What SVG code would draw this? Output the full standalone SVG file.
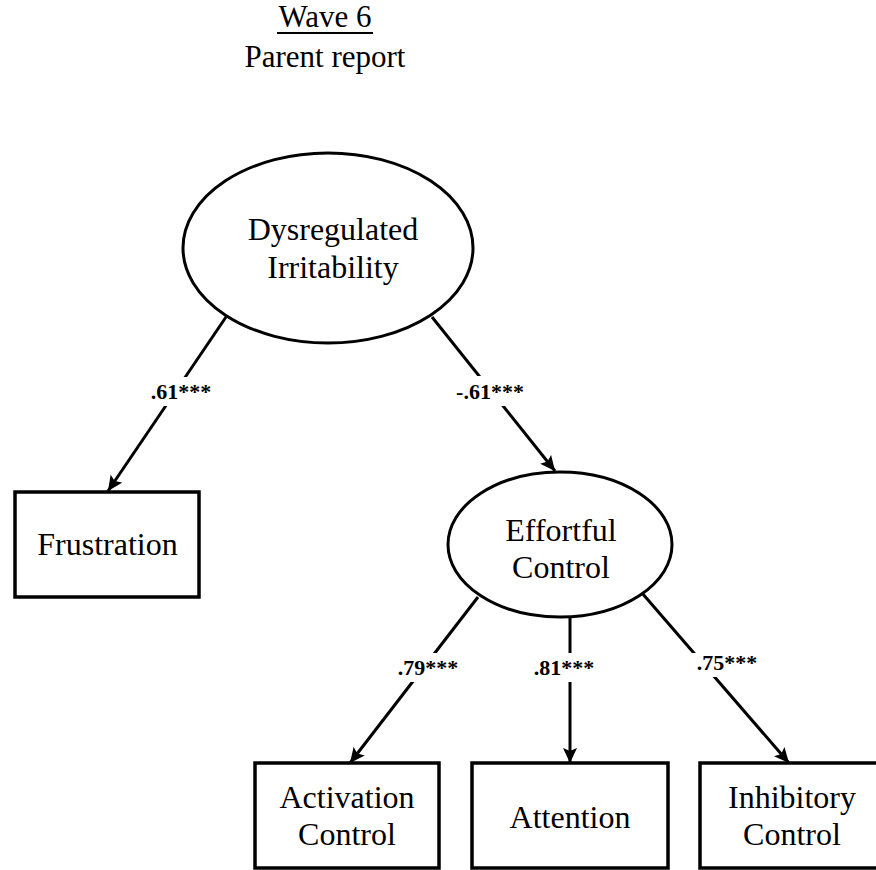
<svg xmlns="http://www.w3.org/2000/svg" width="876" height="870" viewBox="0 0 876 870">
  <defs>
    <marker id="arrow" markerUnits="userSpaceOnUse" markerWidth="16" markerHeight="14" refX="15" refY="7" orient="auto">
      <path d="M0,0 L15,7 L0,14 L3,7 z" fill="#000"/>
    </marker>
    <style>
      text { font-family: "Liberation Serif", "Times New Roman", serif; fill: #000; }
      .title { font-size: 31px; text-anchor: middle; }
      .label { font-size: 32px; text-anchor: middle; }
      .coef { font-size: 22px; font-weight: bold; text-anchor: middle; }
      .box { fill: #fff; stroke: #000; stroke-width: 3.5; }
      .latent { fill: #fff; stroke: #000; stroke-width: 3; }
      .path { stroke: #000; stroke-width: 3; fill: none; marker-end: url(#arrow); }
      .mask { fill: #fff; }
    </style>
  </defs>

  <rect width="876" height="870" fill="#fff"/>

  <!-- heading -->
  <g id="heading">
    <text class="title" x="325" y="27">Wave 6</text>
    <line x1="277" y1="33" x2="373" y2="33" stroke="#000" stroke-width="1.8"/>
    <text class="title" x="325" y="67">Parent report</text>
  </g>

  <!-- loadings / paths -->
  <g id="connectors">
    <line class="path" x1="226" y1="317" x2="108" y2="491"/>
    <line class="path" x1="432" y1="317" x2="555" y2="471"/>
    <line class="path" x1="478" y1="597" x2="350" y2="763"/>
    <line class="path" x1="570" y1="617" x2="570" y2="763"/>
    <line class="path" x1="642" y1="593" x2="789" y2="763"/>

    <rect class="mask" x="146" y="377" width="69" height="29"/>
    <text class="coef" x="181" y="399">.61***</text>

    <rect class="mask" x="452" y="376" width="76" height="30"/>
    <text class="coef" x="490" y="399">-.61***</text>

    <rect class="mask" x="394" y="653" width="69" height="29"/>
    <text class="coef" x="428" y="675">.79***</text>

    <rect class="mask" x="530" y="653" width="68" height="29"/>
    <text class="coef" x="564" y="675">.81***</text>

    <rect class="mask" x="692" y="653" width="69" height="24"/>
    <text class="coef" x="727" y="670">.75***</text>
  </g>

  <g id="dysregulated-irritability">
    <ellipse class="latent" cx="328" cy="248" rx="145" ry="95"/>
    <text class="label" x="333" y="240">Dysregulated</text>
    <text class="label" x="333" y="278">Irritability</text>
  </g>

  <g id="effortful-control">
    <ellipse class="latent" cx="560" cy="544.5" rx="112" ry="72.5"/>
    <text class="label" x="561" y="541">Effortful</text>
    <text class="label" x="561" y="578">Control</text>
  </g>

  <g id="frustration">
    <rect class="box" x="15" y="492" width="184" height="105"/>
    <text class="label" x="107.5" y="555">Frustration</text>
  </g>

  <g id="activation-control">
    <rect class="box" x="255" y="763" width="184" height="105"/>
    <text class="label" x="347" y="808">Activation</text>
    <text class="label" x="347" y="845">Control</text>
  </g>

  <g id="attention">
    <rect class="box" x="472" y="763" width="196" height="105"/>
    <text class="label" x="570" y="828">Attention</text>
  </g>

  <g id="inhibitory-control">
    <rect class="box" x="700" y="763" width="184" height="105"/>
    <text class="label" x="792" y="808">Inhibitory</text>
    <text class="label" x="792" y="845">Control</text>
  </g>
</svg>
